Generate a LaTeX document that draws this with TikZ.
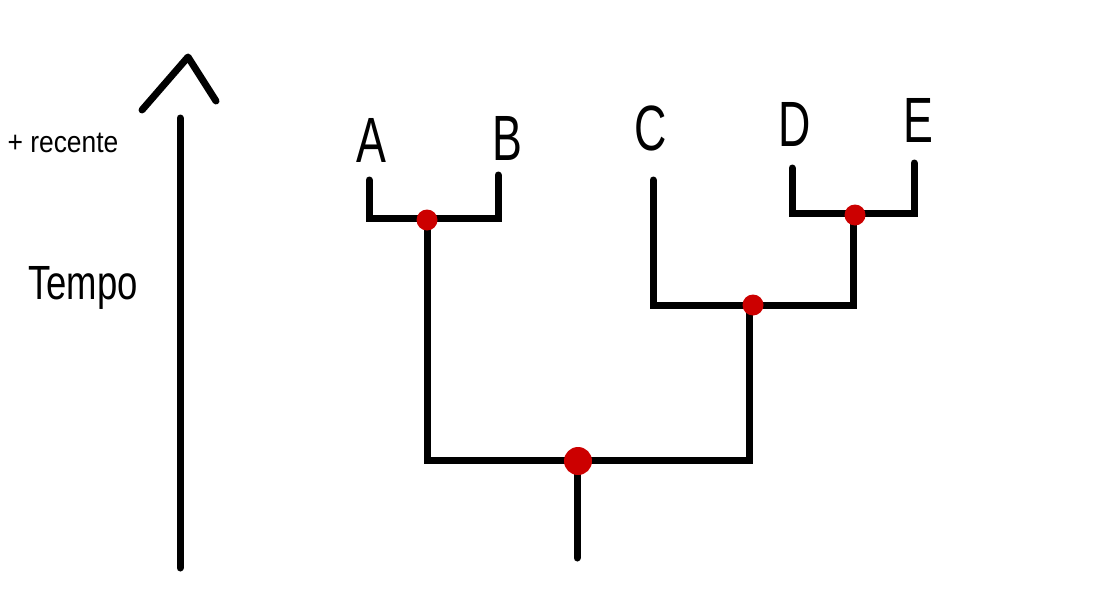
\documentclass[tikz,border=0pt]{standalone}
\usepackage{fontspec}
\setmainfont{Liberation Sans}
\newcommand{\narrowtxt}[1]{\scalebox{0.7}[1]{#1}}
\begin{document}
\begin{tikzpicture}[x=1pt,y=-1pt,
  branch/.style={line width=7pt,line cap=round,line join=miter,black},
  dot/.style={circle,fill=red!80!black,minimum size=21pt,inner sep=0pt},
  leaf/.style={inner sep=0pt,font=\fontsize{64}{64}\selectfont},
  side/.style={inner sep=0pt}]
\useasboundingbox (0,0) rectangle (1101,597);
% time axis
\coordinate (t0) at (180,568);
\coordinate (t1) at (180,118);
\coordinate (h1) at (142,110);
\coordinate (h2) at (188,57);
\coordinate (h3) at (216,101);
\draw[branch] (t0) -- (t1);
\draw[branch,line join=round] (h1) -- (h2) -- (h3);
\node[side,font=\fontsize{30}{30}\selectfont] (rec) at (63,143) {\scalebox{0.88}[1]{+ recente}};
\node[side,font=\fontsize{48}{48}\selectfont] (tempo) at (83,288) {\scalebox{0.76}[1]{Tempo}};
% leaves
\node[leaf] (A) at (371,140) {\narrowtxt{A}};
\node[leaf] (B) at (507,138) {\narrowtxt{B}};
\node[leaf] (C) at (651,128) {\narrowtxt{C}};
\node[leaf] (D) at (795,124) {\narrowtxt{D}};
\node[leaf] (E) at (918,120) {\narrowtxt{E}};
% tree coordinates
\coordinate (a) at (369,180);
\coordinate (b) at (498,175);
\coordinate (c) at (653,180);
\coordinate (d) at (792,168);
\coordinate (e) at (914,163);
\coordinate (r) at (577,558);
% junctions
\coordinate (ab) at (427,218);
\coordinate (de) at (853,213);
\coordinate (cde) at (749,305);
\coordinate (root) at (577,460);
\draw[branch] (a) |- (ab) -| (b);
\draw[branch] (d) |- (de) -| (e);
\draw[branch] (c) |- (cde) -| (de);
\draw[branch] (ab) |- (root) -| (cde);
\draw[branch] (root) -- (r);
% red nodes
\node[dot] (nab) at (427,220) {};
\node[dot] (nde) at (855,215) {};
\node[dot] (ncde) at (753,305) {};
\node[dot,minimum size=28pt] (nroot) at (578,461) {};
\end{tikzpicture}
\end{document}
